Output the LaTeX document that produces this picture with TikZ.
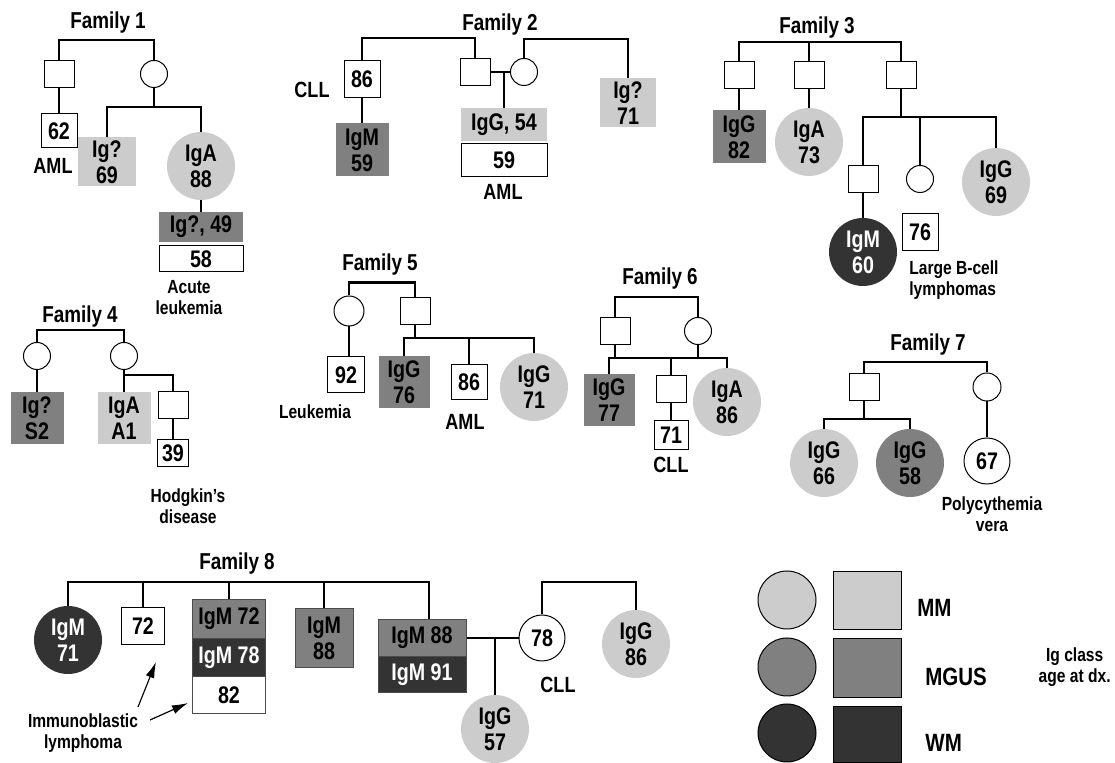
\documentclass[tikz,border=0pt]{standalone}
\usepackage{fontspec}
\setmainfont{Liberation Sans}[FakeStretch=0.82]
\usetikzlibrary{arrows.meta}

\definecolor{mm}{gray}{0.8}
\definecolor{mgus}{gray}{0.5}
\definecolor{wm}{gray}{0.2}

\tikzset{
  every node/.style={font=\bfseries\fontsize{12}{13}\selectfont, inner sep=0pt, align=center},
  title/.style={font=\bfseries\fontsize{11.5}{13}\selectfont},
  lbl/.style={font=\bfseries\fontsize{11}{13}\selectfont},
  note/.style={font=\bfseries\fontsize{9.5}{10.5}\selectfont},
  key/.style={font=\bfseries\fontsize{12.5}{14}\selectfont},
  line/.style={line width=1.2pt},
  pointer/.style={line width=0.6pt, -{Latex[length=8pt, width=4.5pt]}},
  male/.style={draw, line width=0.5pt, fill=white, minimum width=15pt, minimum height=13.5pt},
  female/.style={circle, draw, line width=0.5pt, fill=white, minimum size=13.5pt},
  box/.style 2 args={draw, line width=0.5pt, minimum width=#1*0.5pt, minimum height=#2*0.5pt},
  patch/.style 2 args={minimum width=#1*0.5pt, minimum height=#2*0.5pt},
  stack/.style 2 args={draw=black!70, line width=0.5pt, minimum width=#1*0.5pt, minimum height=#2*0.5pt},
  bigc/.style={circle, minimum size=34pt},
}

\begin{document}
\begin{tikzpicture}[x=0.5pt, y=-0.5pt]
\useasboundingbox (0,0) rectangle (1115,763);

% Family 1
\node[title] at (108,23) {Family 1};
\node[male] (f1a) at (59,74) {};
\node[female] (f1b) at (154,74) {};
\node[box={36}{34}] (f1c) at (59,131) {62};
\node[lbl] at (53,166) {AML};
\node[patch={58}{49}, fill=mm] (f1d) at (107,162) {Ig?\\69};
\node[bigc, fill=mm] (f1e) at (201,166) {IgA\\88};
\node[patch={84}{30}, fill=mgus] (f1f) at (201,227) {Ig?, 49};
\node[box={84}{26}] (f1g) at (201,259) {58};
\node[note] at (189,298) {Acute\\leukemia};
\coordinate (f1s) at (154,107);
\draw[line] (f1a.north) -- ++(0,-20) -| (f1b.north);
\draw[line] (f1a) -- (f1c);
\draw[line] (f1b) -- (f1s);
\draw[line] (f1d.north) |- (f1s) -| (f1e.north);
\draw[line] (f1e) -- (f1f);

% Family 2
\node[title] at (500,25) {Family 2};
\node[box={36}{37}] (f2a) at (362,79) {86};
\node[lbl] at (312,90) {CLL};
\node[patch={53}{53}, fill=mgus] (f2b) at (362,150) {IgM\\59};
\node[male] (f2c) at (475,72) {};
\node[female] (f2d) at (524,72) {};
\coordinate (f2m) at (504,72);
\node[patch={86}{33}, fill=mm] (f2e) at (504,125) {IgG, 54};
\node[box={86}{33}] (f2f) at (504,160) {59};
\node[lbl] at (503,192) {AML};
\node[patch={56}{49}, fill=mm] (f2g) at (628,103) {Ig?\\71};
\draw[line] (f2a.north) -- ++(0,-22) -| (f2c.north);
\draw[line] (f2d.north) -- ++(0,-19) -| (f2g.north);
\draw[line] (f2a) -- (f2b);
\draw[line] (f2c) -- (f2d);
\draw[line] (f2m) -- (f2e);

% Family 3
\node[title] at (817,28) {Family 3};
\node[male] (f3a) at (739,75) {};
\node[male] (f3b) at (809,75) {};
\node[male] (f3c) at (901,75) {};
\node[patch={53}{53}, fill=mgus] (f3d) at (739,137) {IgG\\82};
\node[bigc, fill=mm] (f3e) at (809,142) {IgA\\73};
\coordinate (f3s) at (901,117);
\node[male] (f3f) at (863,179) {};
\node[female] (f3g) at (920,179) {};
\node[bigc, fill=mm] (f3h) at (996,182) {IgG\\69};
\node[bigc, fill=wm, text=white] (f3i) at (863,252) {IgM\\60};
\node[box={36}{37}] (f3j) at (920,232) {76};
\node[note, align=left, anchor=west] at (909,280) {Large B-cell\\lymphomas};
\draw[line] (f3a.north) -- ++(0,-19) -| (f3c.north);
\draw[line] (f3b.north) -- ++(0,-19);
\draw[line] (f3a) -- (f3d);
\draw[line] (f3b) -- (f3e);
\draw[line] (f3c) -- (f3s);
\draw[line] (f3f.north) |- (f3s) -| (f3h.north);
\draw[line] (f3g) -- (f3g |- f3s);
\draw[line] (f3f) -- (f3i);

% Family 4
\node[title] at (80,317) {Family 4};
\node[female] (f4a) at (37,356) {};
\node[female] (f4b) at (124,356) {};
\node[patch={53}{52}, fill=mgus] (f4c) at (37,418) {Ig?\\S2};
\node[patch={53}{52}, fill=mm] (f4d) at (124,418) {IgA\\A1};
\coordinate (f4s) at (124,375);
\node[male] (f4e) at (173,405) {};
\node[box={31}{27}] (f4f) at (173,453) {39};
\node[note] at (188,506) {Hodgkin's\\disease};
\draw[line] (f4a.north) -- ++(0,-12) -| (f4b.north);
\draw[line] (f4a) -- (f4c);
\draw[line] (f4b) -- (f4d);
\draw[line] (f4s) -| (f4e.north);
\draw[line] (f4e) -- (f4f);

% Family 5
\node[title] at (380,265) {Family 5};
\node[female, minimum size=15pt] (f5a) at (349,311) {};
\node[male] (f5b) at (415,311) {};
\node[box={37}{36}] (f5c) at (346,375) {92};
\node[note] at (315,412) {Leukemia};
\coordinate (f5s) at (415,338);
\node[patch={51}{52}, fill=mgus] (f5d) at (404,382) {IgG\\76};
\node[box={36}{35}] (f5e) at (469,382) {86};
\node[lbl] at (465,422) {AML};
\node[bigc, fill=mm] (f5f) at (534,387) {IgG\\71};
\draw[line] (f5a.north) -- ++(0,-13) -| (f5b.north);
\draw[line] (f5a) -- (f5a |- f5c.north);
\draw[line] (f5b) -- (f5s);
\draw[line] (f5d.north) |- (f5s) -| (f5f.north);
\draw[line] (f5e) -- (f5e |- f5s);

% Family 6
\node[title] at (660,279) {Family 6};
\node[male] (f6a) at (615,331) {};
\node[female] (f6b) at (698,331) {};
\coordinate (f6s) at (671,358);
\node[patch={51}{52}, fill=mgus] (f6c) at (609,400) {IgG\\77};
\node[male] (f6d) at (671,389) {};
\node[bigc, fill=mm] (f6e) at (727,402) {IgA\\86};
\node[box={34}{29}] (f6f) at (671,435) {71};
\node[lbl] at (671,465) {CLL};
\draw[line] (f6a.north) -- ++(0,-20) -| (f6b.north);
\draw[line] (f6a) -- (f6a |- f6s);
\draw[line] (f6b) -- (f6b |- f6s);
\draw[line] (f6c.north) |- (f6s) -| (f6e.north);
\draw[line] (f6d) -- (f6s);
\draw[line] (f6d) -- (f6f);

% Family 7
\node[title] at (928,345) {Family 7};
\node[male] (f7a) at (864,387) {};
\node[female, minimum size=14pt] (f7b) at (987,387) {};
\coordinate (f7s) at (864,419);
\node[bigc, fill=mm] (f7c) at (824,463) {IgG\\66};
\node[bigc, fill=mgus] (f7d) at (910,463) {IgG\\58};
\node[female, minimum size=23pt] (f7e) at (987,461) {67};
\node[note] at (992,514) {Polycythemia\\vera};
\draw[line] (f7a.north) -- ++(0,-11) -| (f7b.north);
\draw[line] (f7a) -- (f7s);
\draw[line] (f7c.north) |- (f7s) -| (f7d.north);
\draw[line] (f7b) -- (f7e);

% Family 8
\node[title] at (237,564) {Family 8};
\coordinate (f8l) at (68,582);
\coordinate (f8r) at (429,582);
\node[bigc, fill=wm, text=white] (f8a) at (68,640) {IgM\\71};
\node[box={43}{37}] (f8b) at (143,626) {72};
\node[stack={73}{39}, fill=mgus] (f8c) at (229,619) {IgM 72};
\node[stack={73}{38}, fill=wm, text=white] (f8d) at (229,658) {IgM 78};
\node[stack={73}{37}, fill=white] (f8e) at (229,695.5) {82};
\node[stack={58}{59}, fill=mgus] (f8f) at (324,638) {IgM\\88};
\node[stack={88}{37}, fill=mgus] (f8g) at (422,638) {IgM 88};
\node[stack={88}{36}, fill=wm, text=white] (f8h) at (422,674.5) {IgM 91};
\node[female, minimum size=23pt] (f8i) at (542,638) {78};
\coordinate (f8m) at (495,638);
\node[bigc, fill=mm] (f8j) at (495,729) {IgG\\57};
\node[lbl] at (558,685) {CLL};
\node[bigc, fill=mm] (f8k) at (636,644) {IgG\\86};
\node[note] (f8n) at (83,733) {Immunoblastic\\lymphoma};
\coordinate (f8p) at (138,707);
\coordinate (f8q) at (156,662);
\coordinate (f8u) at (150,720);
\coordinate (f8v) at (188,703);
\draw[line] (f8a) -- (f8l) -- (f8r) -- (f8r |- f8g.north);
\draw[line] (f8b) -- (f8b |- f8l);
\draw[line] (f8c) -- (f8c |- f8l);
\draw[line] (f8f) -- (f8f |- f8l);
\draw[line] (f8g.east) -- (f8i);
\draw[line] (f8m) -- (f8j);
\draw[line] (f8i) -- (f8i |- f8l) -| (f8k.north);
\draw[pointer] (f8p) -- (f8q);
\draw[pointer] (f8u) -- (f8v);

% key
\node[bigc, minimum size=29pt, draw, line width=0.5pt, fill=mm] (k1) at (787,600) {};
\node[bigc, minimum size=29pt, draw, line width=0.5pt, fill=mgus] (k2) at (787,667) {};
\node[bigc, minimum size=29pt, draw, line width=0.5pt, fill=wm] (k3) at (787,733) {};
\node[box={68}{58}, fill=mm] (k4) at (867,601) {};
\node[box={68}{59}, fill=mgus] (k5) at (867,668) {};
\node[box={68}{56}, fill=wm] (k6) at (867,735) {};
\node[key, anchor=west] at (917,608) {MM};
\node[key, anchor=west] at (925,677) {MGUS};
\node[key, anchor=west] at (925,743) {WM};
\node[note, anchor=east] at (1111,667) {Ig class\\age at dx.};
\end{tikzpicture}
\end{document}
